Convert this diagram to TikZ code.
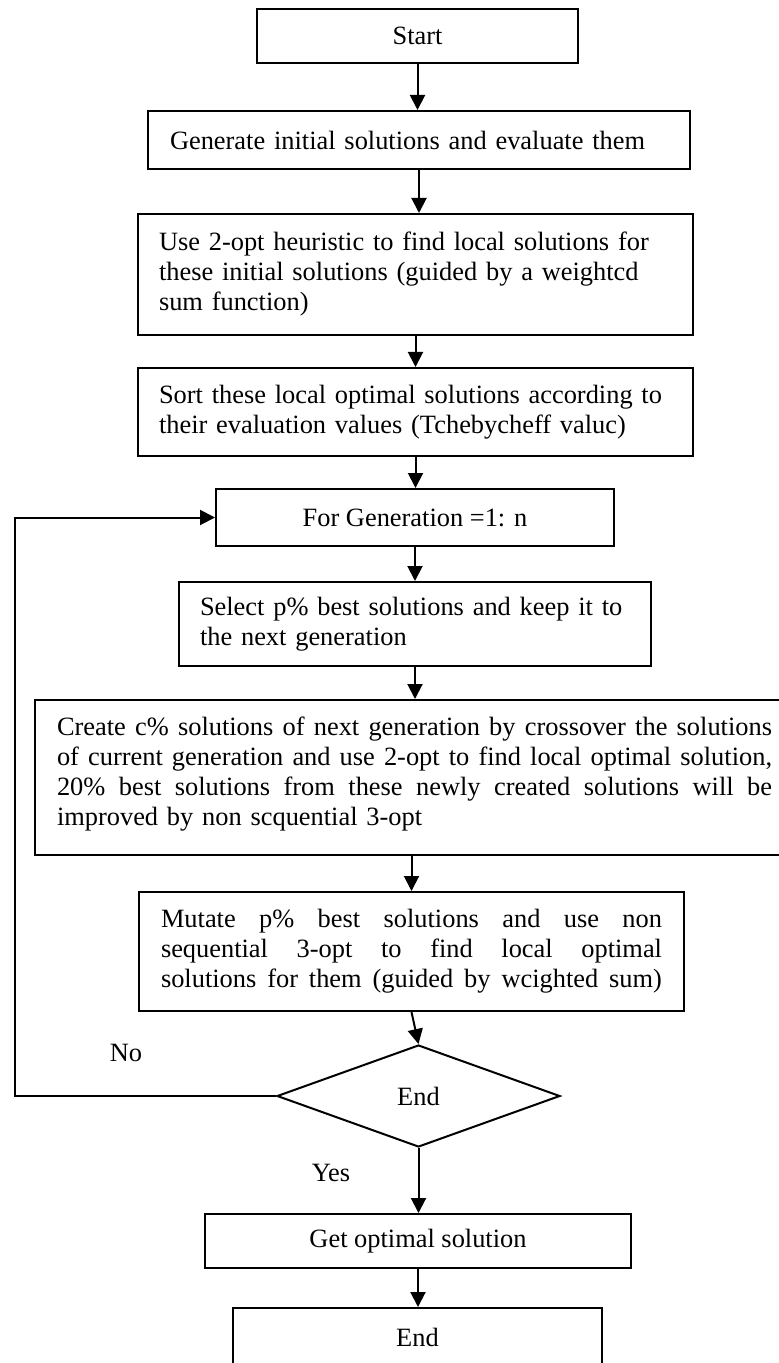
\documentclass[tikz,border=0pt]{standalone}
\usepackage{fontspec}
\setmainfont{Liberation Serif}
\usetikzlibrary{shapes.geometric,arrows.meta}
\newcommand{\myjust}[2]{\leavevmode\hbox to #1{\spaceskip=\fontdimen2\font plus 1fil\xspaceskip=\fontdimen2\font plus 1fil\relax #2}}
\begin{document}
\begin{tikzpicture}[x=0.5pt,y=-0.5pt,
  lbl/.style={font=\fontsize{13.2}{15}\selectfont},
  box/.style={draw,line width=1pt,rectangle,inner sep=0pt,lbl},
  arr/.style={line width=1pt,-{Triangle[length=7.5pt,width=7.5pt]}}]
\useasboundingbox (0,0) rectangle (779,1363);
\fill[white] (0,0) rectangle (779,1363);

\node[box,minimum width=160.5pt,minimum height=27pt] (start) at (417.5,36) {Start};
\node[box,minimum width=271pt,minimum height=29pt,text width=249pt,align=left] (gen) at (419,140) {Generate initial solutions and evaluate them};
\node[box,minimum width=277.5pt,minimum height=60.5pt,text width=256.5pt,align=left] (use) at (415.5,274.5) {Use 2-opt heuristic to find local solutions for\\these initial solutions (guided by a weightcd\\sum function)};
\node[box,minimum width=277.5pt,minimum height=44pt,text width=256.5pt,align=left] (sort) at (415.5,412) {Sort these local optimal solutions according to\\their evaluation values (Tchebycheff valuc)};
\node[box,minimum width=199pt,minimum height=28.5pt] (forgen) at (415,517.5) {For Generation =1: n};
\node[box,minimum width=236pt,minimum height=42pt,text width=215pt,align=left] (select) at (415,624) {Select p\% best solutions and keep it to\\the next generation};
\node[box,minimum width=373pt,minimum height=77.5pt] (create) at (408,777.5) {};
\node[lbl,text width=357.5pt,align=left,inner sep=0pt] (createtxt) at (414.5,774) {\myjust{357.5pt}{Create c\% solutions of next generation by crossover the solutions}\\
\myjust{357.5pt}{of current generation and use 2-opt to find local optimal solution,}\\
\myjust{357.5pt}{20\% best solutions from these newly created solutions will be}\\
improved by non scquential 3-opt};
\node[box,minimum width=272.5pt,minimum height=59.5pt,text width=250.5pt,align=left] (mutate) at (411.5,951.5) {\myjust{250.5pt}{Mutate p\% best solutions and use non}\\
\myjust{250.5pt}{sequential 3-opt to find local optimal}\\
\myjust{250.5pt}{solutions for them (guided by wcighted sum)}};
\node[draw,line width=1pt,diamond,minimum width=141.5pt,minimum height=51pt,inner sep=0pt,lbl] (dec) at (418.5,1096) {End};
\node[box,minimum width=213pt,minimum height=27pt] (get) at (418,1241) {Get optimal solution};
\node[box,minimum width=184.5pt,minimum height=29pt] (end) at (417.5,1337) {End};

\node[lbl] (no) at (126,1053) {No};
\node[lbl] (yes) at (331,1173) {Yes};

\coordinate (loopx) at (15,0);

\draw[arr] (start.south) -- (start.south |- gen.north);
\draw[arr] (gen.south) -- (gen.south |- use.north);
\draw[arr] (use.south) -- (use.south |- sort.north);
\draw[arr] (sort.south) -- (sort.south |- forgen.north);
\draw[arr] (forgen.south) -- (forgen.south |- select.north);
\draw[arr] (select.south) -- (select.south |- create.north);
\draw[arr] (create.south -| mutate.north) -- (mutate.north);
\draw[arr] (mutate.south) -- (dec.north);
\draw[arr] (dec.south) -- (dec.south |- get.north);
\draw[arr] (get.south) -- (get.south |- end.north);
\draw[arr] (dec.west) -- (dec.west -| loopx) |- (forgen.west);
\end{tikzpicture}
\end{document}
